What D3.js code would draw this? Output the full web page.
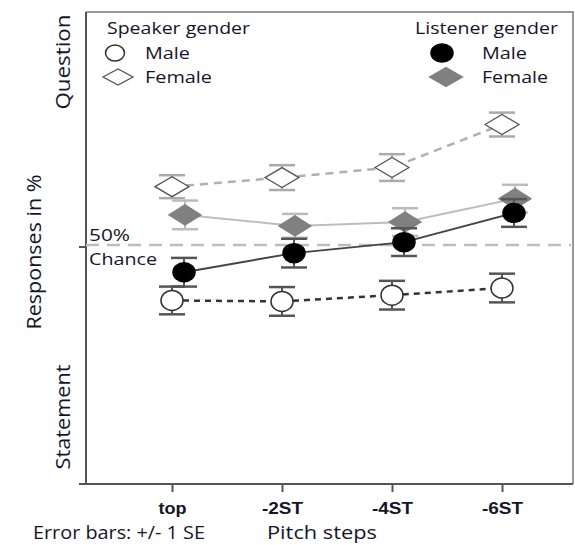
<!DOCTYPE html>
<html>
<head>
<meta charset="utf-8">
<script src="https://cdn.jsdelivr.net/npm/d3@7"></script>
<style>
  body { margin: 0; background: #fff; }
  text { font-family: "Open Sans", "DejaVu Sans", sans-serif; fill: #15152a; }
</style>
</head>
<body>
<div id="chart"></div>
<script>
// data
const steps = ["top", "-2ST", "-4ST", "-6ST"];
const femaleSpeakerMean = [62.2, 64.1, 66.2, 75.2];
const femaleSpeakerSE = [2.4, 2.6, 2.8, 2.5];
const femaleListenerMean = [56.3, 54.0, 54.8, 59.7];
const femaleListenerSE = [3.0, 2.5, 2.9, 2.9];
const maleListenerMean = [44.3, 48.3, 50.6, 56.7];
const maleListenerSE = [3.0, 3.0, 2.9, 2.9];
const maleSpeakerMean = [38.4, 38.2, 39.5, 41.0];
const maleSpeakerSE = [2.9, 3.0, 3.0, 3.0];
const chanceLevel = 50;

const W = 575, H = 545;
const plot = { left: 86, right: 573, top: 12, bottom: 484 };

const svg = d3.select("#chart").append("svg")
  .attr("width", W).attr("height", H);

const x = d3.scalePoint().domain(steps).range([172, 502]);
const y = d3.scaleLinear().domain([0, 100]).range([plot.bottom, 6]);

// helper: text stretched to a given width (the original is a bit wide)
function label(parent, px, py, str, size, len) {
  const t = parent.append("text")
    .attr("x", px).attr("y", py)
    .style("font-size", size + "px")
    .text(str);
  if (len) t.attr("textLength", len).attr("lengthAdjust", "spacingAndGlyphs");
  return t;
}

// frame (top + right)
svg.append("path")
  .attr("d", `M${plot.left},${plot.top}H${plot.right}V${plot.bottom}`)
  .attr("fill", "none")
  .attr("stroke", "#777")
  .attr("stroke-width", 1.5);

// bottom axis
const xAxis = svg.append("g")
  .attr("transform", `translate(0,${plot.bottom})`)
  .call(d3.axisBottom(x).tickSize(8).tickSizeOuter(0).tickPadding(10));
xAxis.select(".domain").remove();
xAxis.append("line")
  .attr("x1", 79).attr("x2", plot.right)
  .attr("stroke", "#555").attr("stroke-width", 2);
xAxis.selectAll(".tick line").attr("stroke", "#555").attr("stroke-width", 2);
xAxis.selectAll(".tick text")
  .style("font-family", "'Liberation Sans', Arial, sans-serif")
  .style("font-weight", "bold")
  .style("font-size", "17px")
  .attr("fill", "#111")
  .attr("textLength", d => d === "top" ? 28 : 41)
  .attr("lengthAdjust", "spacingAndGlyphs");

// left axis: just the line and the 50% tick
svg.append("line")
  .attr("x1", plot.left).attr("x2", plot.left)
  .attr("y1", plot.top).attr("y2", plot.bottom + 1)
  .attr("stroke", "#555").attr("stroke-width", 2);
svg.append("line")
  .attr("x1", plot.left - 7).attr("x2", plot.left)
  .attr("y1", y(chanceLevel) + 2).attr("y2", y(chanceLevel) + 2)
  .attr("stroke", "#555").attr("stroke-width", 2);

// chance line
svg.append("line")
  .attr("x1", plot.left).attr("x2", plot.right - 2)
  .attr("y1", y(chanceLevel)).attr("y2", y(chanceLevel))
  .attr("stroke", "#bdbdbd")
  .attr("stroke-width", 2.5)
  .attr("stroke-dasharray", "13,8");

label(svg, 89, y(chanceLevel) - 4, "50%", 17, 41);
label(svg, 89, y(chanceLevel) + 20, "Chance", 17, 68);

// axis labels
label(svg, 0, 0, "Responses in %", 20, 155)
  .attr("transform", "translate(41,252) rotate(-90)")
  .attr("x", -77.5);
label(svg, 0, 0, "Question", 20, 95)
  .attr("transform", "translate(70,62) rotate(-90)")
  .attr("x", -47.5);
label(svg, 0, 0, "Statement", 20, 105)
  .attr("transform", "translate(70,417) rotate(-90)")
  .attr("x", -52.5);

label(svg, 267, 539, "Pitch steps", 19, 110);
label(svg, 33, 539, "Error bars: +/- 1 SE", 19, 172);

// series
const series = [
  { mean: maleSpeakerMean, se: maleSpeakerSE, dx: 0, line: "#333", dash: "6,5", lw: 2.5,
    bar: "#555", shape: "circle", fill: "#fff", stroke: "#333", w: 22, h: 20 },
  { mean: femaleSpeakerMean, se: femaleSpeakerSE, dx: 0, line: "#b0b0b0", dash: "8,6", lw: 2.5,
    bar: "#aaa", shape: "diamond", fill: "#fff", stroke: "#555", w: 34, h: 20 },
  { mean: femaleListenerMean, se: femaleListenerSE, dx: 13, line: "#bdbdbd", dash: null, lw: 2,
    bar: "#bbb", shape: "diamond", fill: "#808080", stroke: "#808080", w: 32, h: 20 },
  { mean: maleListenerMean, se: maleListenerSE, dx: 12, line: "#444", dash: null, lw: 2,
    bar: "#555", shape: "circle", fill: "#000", stroke: "#000", w: 22, h: 19 }
];

function drawMarker(g, shape, w, h, fill, stroke) {
  if (shape === "circle") {
    g.append("ellipse").attr("rx", w / 2).attr("ry", h / 2)
      .attr("fill", fill).attr("stroke", stroke).attr("stroke-width", 1.5);
  } else {
    g.append("path")
      .attr("d", `M${-w / 2},0L0,${-h / 2}L${w / 2},0L0,${h / 2}Z`)
      .attr("fill", fill).attr("stroke", stroke).attr("stroke-width", 1.3);
  }
}

series.forEach(s => {
  const pts = steps.map((st, i) => ({ x: x(st) + s.dx, m: s.mean[i], se: s.se[i] }));
  const g = svg.append("g");

  g.append("path")
    .datum(pts)
    .attr("fill", "none")
    .attr("stroke", s.line)
    .attr("stroke-width", s.lw)
    .attr("stroke-dasharray", s.dash)
    .attr("d", d3.line().x(d => d.x).y(d => y(d.m)));

  pts.forEach(p => {
    const lo = y(p.m - p.se), hi = y(p.m + p.se);
    g.append("line").attr("x1", p.x).attr("x2", p.x).attr("y1", lo).attr("y2", hi)
      .attr("stroke", s.bar).attr("stroke-width", 2);
    [lo, hi].forEach(yy => {
      g.append("line").attr("x1", p.x - 13).attr("x2", p.x + 13).attr("y1", yy).attr("y2", yy)
        .attr("stroke", s.bar).attr("stroke-width", 2.5);
    });
    const mk = g.append("g").attr("transform", `translate(${p.x},${y(p.m)})`);
    drawMarker(mk, s.shape, s.w, s.h, s.fill, s.stroke);
  });
});

// legends
label(svg, 107, 34, "Speaker gender", 17, 143);
drawMarker(svg.append("g").attr("transform", "translate(115,53)"), "circle", 19, 16, "#fff", "#333");
label(svg, 145, 59, "Male", 17, 45);
drawMarker(svg.append("g").attr("transform", "translate(118,77)"), "diamond", 30, 16, "#fff", "#555");
label(svg, 145, 83, "Female", 17, 67);

label(svg, 415, 34, "Listener gender", 17, 143);
drawMarker(svg.append("g").attr("transform", "translate(442,53)"), "circle", 22, 18, "#000", "#000");
label(svg, 482, 59, "Male", 17, 45);
drawMarker(svg.append("g").attr("transform", "translate(446,77)"), "diamond", 33, 19, "#808080", "#808080");
label(svg, 482, 83, "Female", 17, 66);
</script>
</body>
</html>
